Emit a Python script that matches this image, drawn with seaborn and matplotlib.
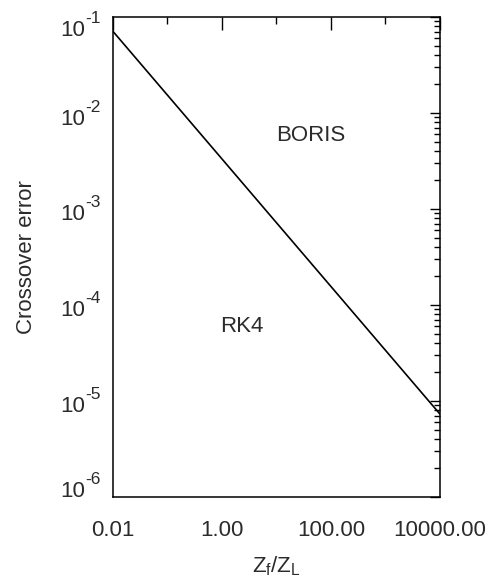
import matplotlib
matplotlib.use("Agg")
import matplotlib.pyplot as plt
import matplotlib.ticker as mticker
import numpy as np
import pandas as pd
import seaborn as sns

# Crossover error between the two integrators as a function of Z_f/Z_L
z_ratio = [0.01, 10000.0]
crossover_error = [0.071, 7.3e-6]

x_ticks = [0.01, 1.0, 100.0, 10000.0]
x_tick_labels = ["0.01", "1.00", "100.00", "10000.00"]
y_ticks = [1e-1, 1e-2, 1e-3, 1e-4, 1e-5, 1e-6]
y_tick_exponents = ["-1", "-2", "-3", "-4", "-5", "-6"]

region_labels = ["BORIS", "RK4"]
region_x = [43.0, 2.3]
region_y = [5.9e-3, 6.0e-5]

sns.set_theme(style="white")
plt.rcParams["font.family"] = ["Liberation Sans", "DejaVu Sans"]
plt.rcParams["mathtext.fontset"] = "custom"
plt.rcParams["mathtext.rm"] = "Liberation Sans"
plt.rcParams["mathtext.it"] = "Liberation Sans"

text_color = "#2b2b2b"
fs = 16
fs_sup = 12.5
PX = 72.0 / 100.0  # points per pixel at 100 dpi

fig = plt.figure(figsize=(4.93, 5.82), dpi=100)
ax = fig.add_axes([0.229, 0.146, 0.8925 - 0.229, 0.9708 - 0.146])

df = pd.DataFrame({"z": z_ratio, "err": crossover_error})
sns.lineplot(data=df, x="z", y="err", ax=ax, color="black", linewidth=1.2)

ax.set_xscale("log")
ax.set_yscale("log")
ax.set_xlim(0.01, 10000.0)
ax.set_ylim(1e-6, 1e-1)

ax.set_xticks(x_ticks)
ax.set_xticklabels(x_tick_labels)
ax.xaxis.set_minor_locator(mticker.FixedLocator([0.1, 10.0, 1000.0]))
ax.xaxis.set_minor_formatter(mticker.NullFormatter())
ax.set_yticks(y_ticks)
ax.set_yticklabels([""] * len(y_ticks))
ax.yaxis.set_minor_locator(mticker.LogLocator(base=10, subs=np.arange(2, 10)))
ax.yaxis.set_minor_formatter(mticker.NullFormatter())

ax.tick_params(which="both", direction="in", top=True, right=True,
               color="black", width=1.0, labelcolor=text_color, labelsize=fs)
ax.tick_params(axis="x", which="major", length=9, pad=16.5)
ax.tick_params(axis="x", which="minor", length=5)
ax.tick_params(axis="y", which="major", length=7)
ax.tick_params(axis="y", which="minor", length=4)

# Power-of-ten labels on the y axis: "10" with a raised exponent; the end
# labels are nudged inward so they stay beside the frame.
base_drop_px = [19, 12, 11, 11, 11, 0]
for yv, exp, drop in zip(y_ticks, y_tick_exponents, base_drop_px):
    ax.annotate("10", xy=(0, yv), xycoords=("axes fraction", "data"),
                xytext=(-28 * PX, -drop * PX), textcoords="offset points",
                ha="right", va="baseline", fontsize=fs, color=text_color)
    ax.annotate(exp, xy=(0, yv), xycoords=("axes fraction", "data"),
                xytext=(-27.5 * PX, (13 - drop) * PX), textcoords="offset points",
                ha="left", va="baseline", fontsize=fs_sup, color=text_color)

for s in ax.spines.values():
    s.set_color("black")
    s.set_linewidth(1.1)

ax.set_xlabel(r"$\mathregular{Z_f/Z_L}$", fontsize=fs, color=text_color, labelpad=10)
ax.set_ylabel("Crossover error", fontsize=fs, color=text_color)
ax.yaxis.set_label_coords(-0.232, 0.5)

for name, xv, yv in zip(region_labels, region_x, region_y):
    ax.text(xv, yv, name, fontsize=fs, color=text_color, ha="center", va="center")

fig.savefig("out.png", dpi=100)
